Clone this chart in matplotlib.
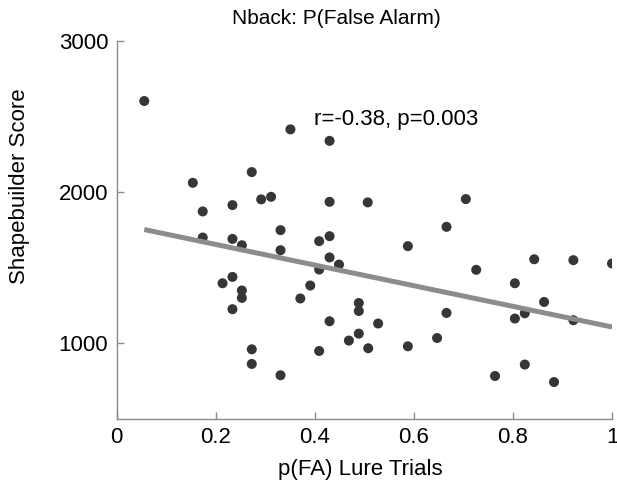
"""Nback: P(False Alarm) vs Shapebuilder score, scatter + regression line."""
import matplotlib
matplotlib.use("Agg")
import matplotlib.pyplot as plt

plt.rcParams["font.family"] = ["Liberation Sans", "DejaVu Sans"]

# p(FA) lure trials vs shapebuilder score
fa_rate = [0.056, 0.351, 0.430, 0.154, 0.273, 0.174, 0.234, 0.292, 0.312, 0.430,
           0.507, 0.705, 0.666, 0.331, 0.174, 0.234, 0.253, 0.331, 0.409, 0.430,
           0.430, 0.449, 0.409, 0.214, 0.234, 0.253, 0.253, 0.234, 0.371, 0.391,
           0.489, 0.489, 0.430, 0.489, 0.469, 0.508, 0.409, 0.273, 0.273, 0.331,
           0.528, 0.588, 0.588, 0.647, 0.666, 0.726, 0.843, 0.922, 1.000, 0.804,
           0.863, 0.824, 0.804, 0.922, 0.764, 0.824, 0.883]
score = [2602, 2414, 2338, 2060, 2131, 1870, 1912, 1950, 1967, 1934,
         1930, 1952, 1768, 1746, 1697, 1688, 1646, 1613, 1673, 1706,
         1565, 1518, 1485, 1394, 1436, 1346, 1297, 1222, 1293, 1379,
         1263, 1210, 1142, 1060, 1014, 963, 945, 956, 859, 784,
         1127, 1640, 976, 1031, 1197, 1483, 1553, 1547, 1525, 1394,
         1270, 1195, 1160, 1149, 779, 855, 739]

# fitted line endpoints
fit_x = [0.056, 1.0]
fit_y = [1750, 1104]

x_ticks = [0, 0.2, 0.4, 0.6, 0.8, 1]
x_labels = ["0", "0.2", "0.4", "0.6", "0.8", "1"]
y_ticks = [1000, 2000, 3000]

W, H = 617, 483
fig = plt.figure(figsize=(W / 100, H / 100), dpi=100)
ax = fig.add_axes([116.5 / W, 1 - 419 / H, 495.5 / W, 378 / H])

ax.scatter(fa_rate, score, s=52, color="#363636", edgecolors="none", zorder=2)
ax.plot(fit_x, fit_y, color="#8c8c8c", lw=3.6, solid_capstyle="butt", zorder=3)

ax.set_xlim(0, 1)
ax.set_ylim(494, 3000)
ax.set_xticks(x_ticks)
ax.set_xticklabels(x_labels)
ax.set_yticks(y_ticks)

for side in ("top", "right"):
    ax.spines[side].set_visible(False)
for side in ("left", "bottom"):
    ax.spines[side].set_color("#8a8a8a")
    ax.spines[side].set_linewidth(1.0)
ax.tick_params(direction="in", length=5, width=1.0, color="#8a8a8a",
               labelsize=16, labelcolor="black", pad=6)

ax.text(0.398, 2440, "r=-0.38, p=0.003", fontsize=16, va="baseline")

fig.text(336 / W, 1 - 19 / H, "Nback: P(False Alarm)", fontsize=15,
         ha="center", va="center")
fig.text(19.5 / W, 1 - 186 / H, "Shapebuilder Score", fontsize=16,
         rotation=90, ha="center", va="center")
fig.text(360 / W, 1 - 469 / H, "p(FA) Lure Trials", fontsize=16,
         ha="center", va="center")

fig.savefig("out.png", dpi=100)
